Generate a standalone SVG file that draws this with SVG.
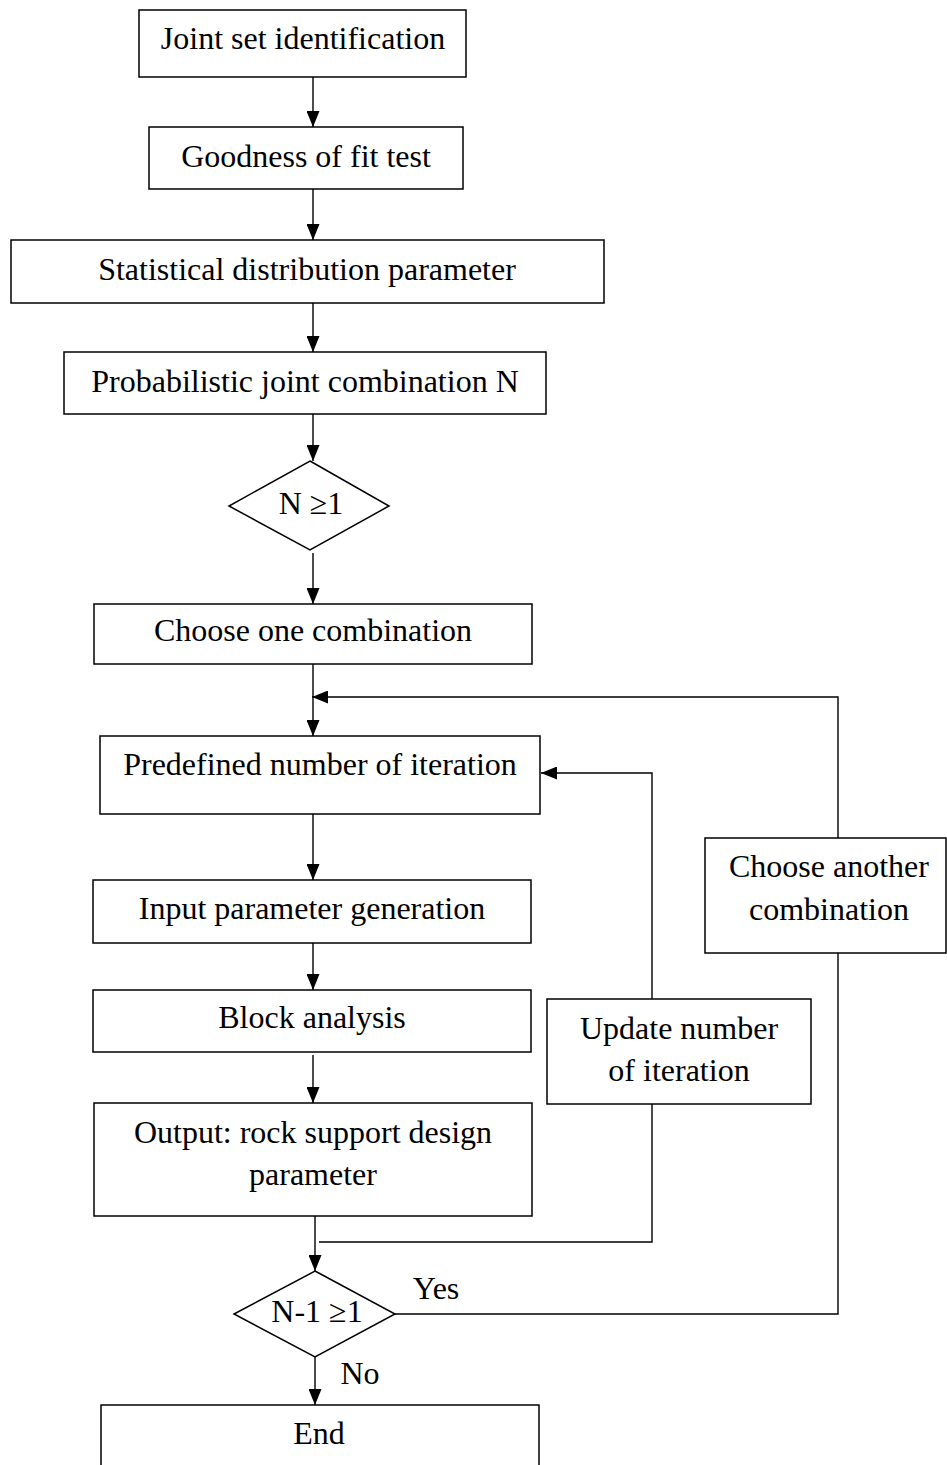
<svg xmlns="http://www.w3.org/2000/svg" width="947" height="1465" viewBox="0 0 947 1465">
<style>
.box{fill:#fff;stroke:#000;stroke-width:1.5}
.lbl{font-family:"Liberation Serif","Times New Roman",serif;font-size:32px;fill:#000;text-anchor:middle}
.ln{fill:none;stroke:#000;stroke-width:1.4}
</style>
<defs>
<marker id="ah" markerUnits="userSpaceOnUse" markerWidth="16" markerHeight="13" refX="16" refY="6.5" orient="auto">
<path d="M0,0 L16,6.5 L0,13 z" fill="#000"/>
</marker>
</defs>
<rect width="947" height="1465" fill="#fff"/>
<g id="connectors">
<line class="ln" x1="313" y1="77" x2="313" y2="127" marker-end="url(#ah)"/>
<line class="ln" x1="313" y1="189" x2="313" y2="240" marker-end="url(#ah)"/>
<line class="ln" x1="313" y1="303" x2="313" y2="352" marker-end="url(#ah)"/>
<line class="ln" x1="313" y1="414" x2="313" y2="461" marker-end="url(#ah)"/>
<line class="ln" x1="313" y1="553" x2="313" y2="604" marker-end="url(#ah)"/>
<line class="ln" x1="313" y1="664" x2="313" y2="736" marker-end="url(#ah)"/>
<polyline class="ln" points="838,838 838,697 312,697" marker-end="url(#ah)"/>
<polyline class="ln" points="652,999 652,773 541,773" marker-end="url(#ah)"/>
<line class="ln" x1="313" y1="814" x2="313" y2="880" marker-end="url(#ah)"/>
<line class="ln" x1="313" y1="943" x2="313" y2="990" marker-end="url(#ah)"/>
<line class="ln" x1="313" y1="1055" x2="313" y2="1103" marker-end="url(#ah)"/>
<line class="ln" x1="315" y1="1216" x2="315" y2="1271" marker-end="url(#ah)"/>
<polyline class="ln" points="319,1242 652,1242 652,1104"/>
<polyline class="ln" points="395,1314 838,1314 838,953"/>
<line class="ln" x1="315" y1="1357" x2="315" y2="1405" marker-end="url(#ah)"/>
<text class="lbl" x="436" y="1299">Yes</text>
<text class="lbl" x="360" y="1384">No</text>
</g>
<g id="n1"><rect class="box" x="139" y="10" width="327" height="67"/><text class="lbl" x="303" y="49">Joint set identification</text></g>
<g id="n2"><rect class="box" x="149" y="127" width="314" height="62"/><text class="lbl" x="306" y="167">Goodness of fit test</text></g>
<g id="n3"><rect class="box" x="11" y="240" width="593" height="63"/><text class="lbl" x="307" y="280">Statistical distribution parameter</text></g>
<g id="n4"><rect class="box" x="64" y="352" width="482" height="62"/><text class="lbl" x="305" y="392">Probabilistic joint combination N</text></g>
<g id="d1"><polygon class="box" points="310,461 389,506 310,550 229,506"/><text class="lbl" x="311" y="514">N ≥1</text></g>
<g id="n5"><rect class="box" x="94" y="604" width="438" height="60"/><text class="lbl" x="313" y="641">Choose one combination</text></g>
<g id="n6"><rect class="box" x="100" y="736" width="440" height="78"/><text class="lbl" x="320" y="775">Predefined number of iteration</text></g>
<g id="n7"><rect class="box" x="93" y="880" width="438" height="63"/><text class="lbl" x="312" y="919">Input parameter generation</text></g>
<g id="n8"><rect class="box" x="93" y="990" width="438" height="62"/><text class="lbl" x="312" y="1028">Block analysis</text></g>
<g id="n9"><rect class="box" x="94" y="1103" width="438" height="113"/><text class="lbl" x="313" y="1143">Output: rock support design</text><text class="lbl" x="313" y="1185">parameter</text></g>
<g id="n10"><rect class="box" x="547" y="999" width="264" height="105"/><text class="lbl" x="679" y="1039">Update number</text><text class="lbl" x="679" y="1081">of iteration</text></g>
<g id="n11"><rect class="box" x="705" y="838" width="241" height="115"/><text class="lbl" x="829" y="877">Choose another</text><text class="lbl" x="829" y="920">combination</text></g>
<g id="d2"><polygon class="box" points="315,1271 395,1314 315,1357 234,1314"/><text class="lbl" x="317" y="1322">N-1 ≥1</text></g>
<g id="n12"><rect class="box" x="101" y="1405" width="438" height="70"/><text class="lbl" x="319" y="1444">End</text></g>
</svg>
